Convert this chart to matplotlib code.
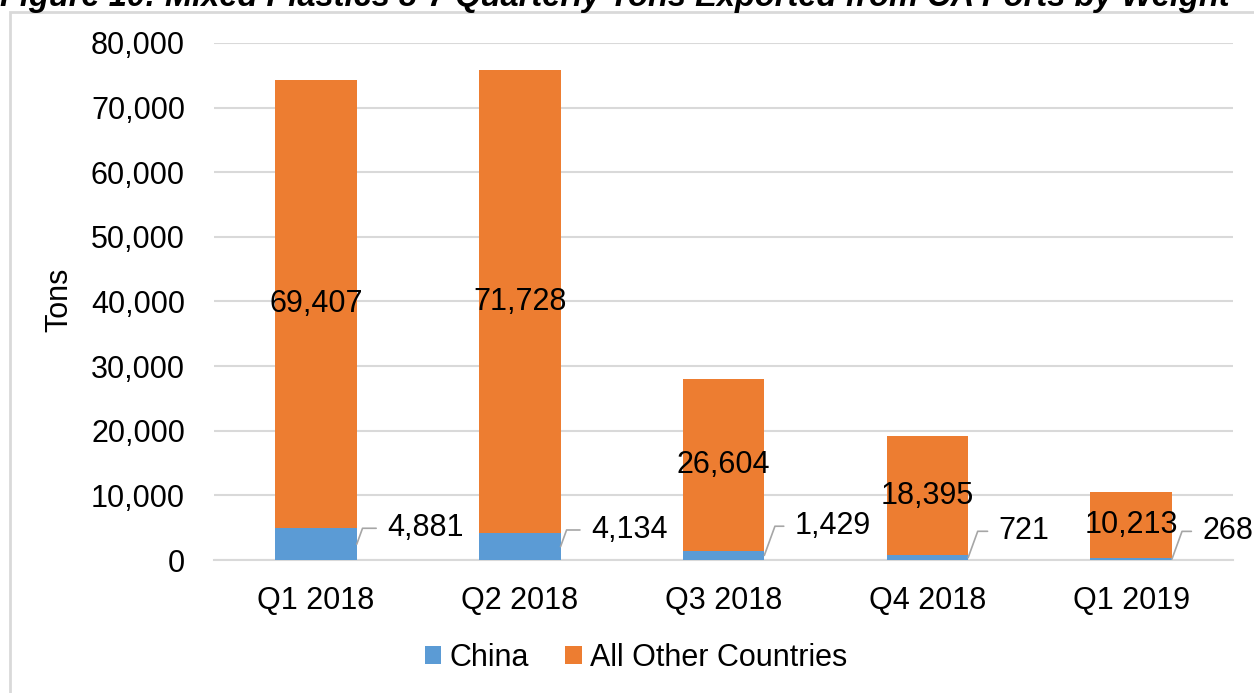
import matplotlib.pyplot as plt
from matplotlib.patches import Rectangle

quarters = ['Q1 2018', 'Q2 2018', 'Q3 2018', 'Q4 2018', 'Q1 2019']
china = [4881, 4134, 1429, 721, 268]
other = [69407, 71728, 26604, 18395, 10213]
yticks = [0, 10000, 20000, 30000, 40000, 50000, 60000, 70000, 80000]

BLUE = '#5B9BD5'
ORANGE = '#ED7D31'
GRID = '#D9D9D9'
FS = 22

# how far each china label is lifted above its segment (points)
china_lift = [11.5, 12, 21, 19, 20]

plt.rcParams['font.family'] = ['Liberation Sans', 'DejaVu Sans']

fig = plt.figure(figsize=(12.54, 6.93), dpi=100)
ax = fig.add_axes([0.1707, 0.1919, 0.8126, 0.7461])

# chart frame
fig.patches.append(Rectangle((10 / 1254, -0.01), 1.0, 1 - 12 / 693 + 0.01,
                             transform=fig.transFigure, fill=False,
                             edgecolor=GRID, linewidth=2, zorder=0))

# caption sits above the chart and runs off the top edge
fig.text(0.0, 1 - 6 / 693, 'Figure 10: Mixed Plastics 3-7 Quarterly Tons Exported from CA Ports by Weight',
         fontsize=23.5, fontweight='bold', fontstyle='italic', va='baseline', ha='left')

x = list(range(len(quarters)))
width = 0.40
ax.bar(x, china, width, color=BLUE, label='China', zorder=3)
ax.bar(x, other, width, bottom=china, color=ORANGE, label='All Other Countries', zorder=3)

# totals for other countries, centred in the orange segment
for i, (c, o) in enumerate(zip(china, other)):
    ax.text(i, c + o / 2, f'{o:,}', ha='center', va='center', fontsize=FS, zorder=5)

# china values pulled out to the right with a leader line
for i, c in enumerate(china):
    ax.annotate(f'{c:,}', xy=(i + width / 2, c / 2), xytext=(22, china_lift[i]),
                textcoords='offset points', ha='left', va='center', fontsize=FS,
                arrowprops=dict(arrowstyle='-', color='#A6A6A6', lw=1.2,
                                connectionstyle='angle,angleA=0,angleB=70,rad=0',
                                shrinkA=6, shrinkB=0),
                zorder=5)

ax.set_xlim(-0.5, len(quarters) - 0.5)
ax.set_ylim(0, 80000)
ax.set_yticks(yticks)
ax.set_yticklabels([f'{v:,}' for v in yticks])
ax.set_xticks(x)
ax.set_xticklabels(quarters)
ax.tick_params(axis='both', length=0, labelsize=FS)
ax.tick_params(axis='x', pad=19)
ax.tick_params(axis='y', pad=21)
ax.yaxis.grid(True, color=GRID, linewidth=1.5, zorder=0)
ax.set_axisbelow(True)
for side in ['top', 'right', 'left']:
    ax.spines[side].set_visible(False)
ax.spines['bottom'].set_color(GRID)
ax.spines['bottom'].set_linewidth(1.5)

ax.set_ylabel('Tons', fontsize=FS)
ax.yaxis.set_label_coords(-0.137, 0.503)

fig.legend(loc='center', bbox_to_anchor=(0.507, 1 - 658 / 693), ncol=2, frameon=False,
           fontsize=FS, handlelength=0.55, handleheight=0.55, handletextpad=0.25,
           columnspacing=1.2)

fig.savefig('out.png', dpi=100)
